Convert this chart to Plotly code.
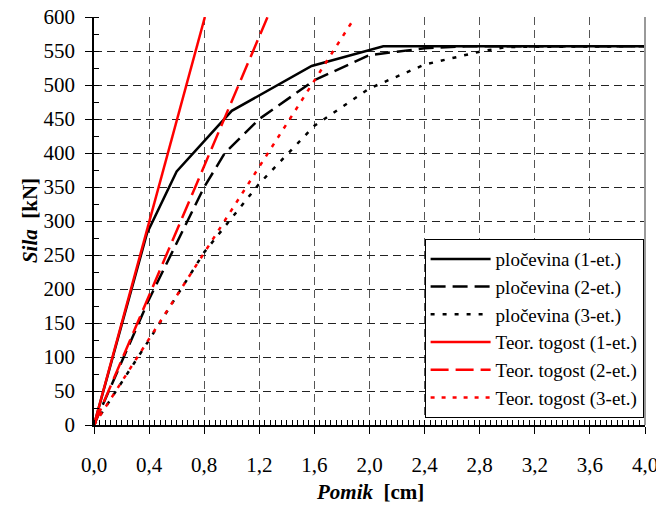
import plotly.graph_objects as go

# Data
disp_1 = [0, 0.385, 0.6, 1.0, 1.58, 2.1, 4.0]
force_1 = [0, 282, 373, 462, 528, 557, 557]

disp_2 = [0, 0.4, 0.8, 0.95, 1.2, 1.6, 2.0, 2.4, 2.7, 4.0]
force_2 = [0, 185, 350, 400, 450, 507, 544, 554, 557, 557]

disp_3 = [0, 0.4, 0.8, 1.2, 1.6, 2.0, 2.4, 2.8, 3.0, 4.0]
force_3 = [0, 125, 254, 355, 440, 495, 530, 549, 556, 557]

teor_1_x = [0, 0.805]
teor_1_y = [0, 600]
teor_2_x = [0, 1.26]
teor_2_y = [0, 600]
teor_3_x = [0, 1.87]
teor_3_y = [0, 592]

x_ticks = [0.0, 0.4, 0.8, 1.2, 1.6, 2.0, 2.4, 2.8, 3.2, 3.6, 4.0]
x_labels = ["0,0", "0,4", "0,8", "1,2", "1,6", "2,0", "2,4", "2,8", "3,2", "3,6", "4,0"]

FONT = "Liberation Serif, Times New Roman, DejaVu Serif, serif"

fig = go.Figure()
series = [
    (disp_1, force_1, "pločevina (1-et.)", "black", "solid"),
    (disp_2, force_2, "pločevina (2-et.)", "black", "15px,7px"),
    (disp_3, force_3, "pločevina (3-et.)", "black", "4px,8px"),
    (teor_1_x, teor_1_y, "Teor. togost (1-et.)", "#ff0000", "solid"),
    (teor_2_x, teor_2_y, "Teor. togost (2-et.)", "#ff0000", "18px,7px"),
    (teor_3_x, teor_3_y, "Teor. togost (3-et.)", "#ff0000", "4px,7px"),
]
for x, y, name, color, dash in series:
    fig.add_trace(go.Scatter(x=x, y=y, mode="lines", name=name,
                             line=dict(color=color, width=2.5, dash=dash)))

# page body has an 8px margin, so the figure is shrunk by 8px each way
fig.update_layout(
    width=656, height=500,
    margin=dict(l=86, r=19, t=9, b=83),
    paper_bgcolor="white", plot_bgcolor="white",
    font=dict(family=FONT, color="black", size=21),
    legend=dict(x=0.6, y=0.017, xanchor="left", yanchor="bottom",
                bgcolor="white", bordercolor="black", borderwidth=1,
                font=dict(family=FONT, size=19, color="black"),
                tracegroupgap=0, itemwidth=60),
    showlegend=True,
)
fig.update_xaxes(
    range=[0, 4.0], tickvals=x_ticks, ticktext=x_labels,
    showline=True, linecolor="black", linewidth=1.5,
    ticks="outside", ticklen=7, tickcolor="black",
    showgrid=True, gridcolor="#555", griddash="8px,5px", gridwidth=1,
    minor=dict(dtick=0.04, ticks="inside", ticklen=5, tickcolor="black", showgrid=False),
    zeroline=False, automargin=False, ticklabelstandoff=13,
    ticklabeloverflow="allow",
    tickfont=dict(family=FONT, size=21),
)
fig.update_yaxes(
    range=[0, 600], dtick=50,
    showline=True, linecolor="black", linewidth=1.5,
    ticks="outside", ticklen=7, tickcolor="black",
    showgrid=True, gridcolor="#222", griddash="8px,5px", gridwidth=1,
    minor=dict(dtick=25, ticks="inside", ticklen=5, tickcolor="black", showgrid=False),
    zeroline=False, automargin=False, ticklabelstandoff=6,
    ticklabeloverflow="allow",
    tickfont=dict(family=FONT, size=21),
)
fig.add_annotation(text="<b><i>Pomik</i>  [cm]</b>", xref="paper", yref="paper",
                   x=0.5, y=-0.165, xanchor="center", yanchor="middle", showarrow=False,
                   font=dict(family=FONT, size=21))
fig.add_annotation(text="<b><i>Sila</i>  [kN]</b>", xref="paper", yref="paper",
                   x=-0.116, y=0.5, xanchor="center", yanchor="middle", showarrow=False,
                   textangle=-90, font=dict(family=FONT, size=21))
fig.add_shape(type="line", xref="paper", yref="paper", x0=1, x1=1, y0=0, y1=1,
              line=dict(color="#999", width=2))

fig.write_html("out.html")
